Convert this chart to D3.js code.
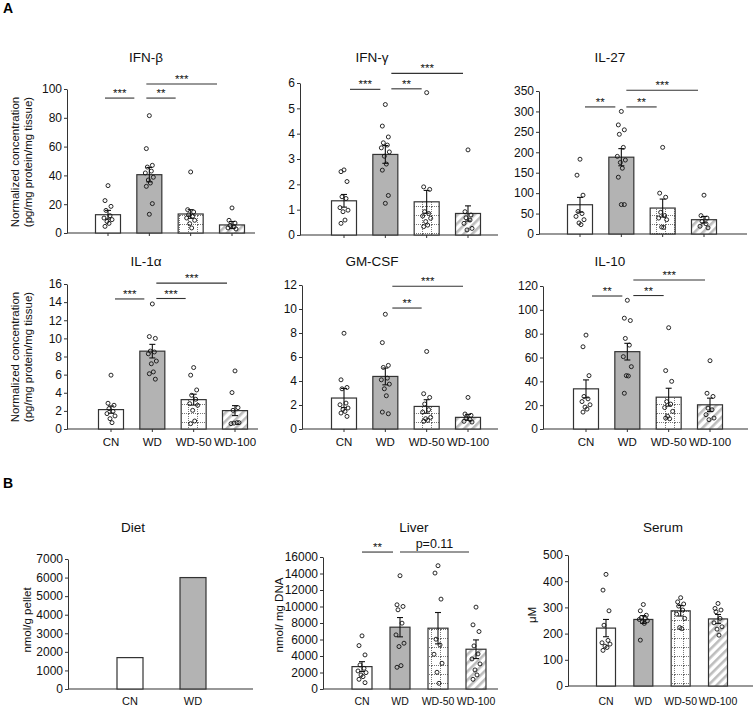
<!DOCTYPE html>
<html><head><meta charset="utf-8">
<script src="https://cdn.jsdelivr.net/npm/d3@7"></script>
<style>
body{margin:0;background:#fff;}
svg{display:block;font-family:"Liberation Sans",Arial,sans-serif;}
</style></head>
<body>
<svg id="c" width="756" height="708"></svg>
<script>
// ---------- DATA ----------
const groups = ["CN","WD","WD-50","WD-100"];
const dietGroups = ["CN","WD"];

const ifnbMeans = [12.7, 40.5, 13.2, 5.6];
const ifnbSem = [3.0, 5.0, 3.0, 2.4];
const ifnbPts = [
  [32.9, 22.5, 18.5, 15.7, 12, 10.4, 9.3, 8, 6.7, 4.6],
  [81.5, 58.6, 47, 45.8, 43, 41.7, 38.7, 36.8, 34.7, 32.4, 20.4, 13],
  [42.4, 16.2, 14.6, 12.7, 11.6, 10.4, 8.8, 6.5, 3.5],
  [17.4, 8.8, 6.9, 5.3, 4.2, 3.5, 2.8]];
const ifnbTicks = [0,20,40,60,80,100];
const ifnbSig = [[0,1,93.7,"***"],[1,2,93.7,"**"],[1,3,103.5,"***"]];

const ifngMeans = [1.35, 3.18, 1.31, 0.85];
const ifngSem = [0.25, 0.35, 0.45, 0.3];
const ifngPts = [
  [2.57, 2.5, 2.11, 1.51, 1.44, 1.08, 0.98, 0.92, 0.59, 0.46],
  [5.15, 4.3, 3.87, 3.64, 3.55, 3.44, 3.28, 3.11, 2.8, 2.56, 1.56, 1.25],
  [5.62, 1.9, 1.8, 0.92, 0.85, 0.75, 0.66, 0.53, 0.39, 0.33],
  [3.36, 0.92, 0.79, 0.68, 0.59, 0.46, 0.26, 0.2]];
const ifngTicks = [0,1,2,3,4,5,6];
const ifngSig = [[0,1,5.75,"***"],[1,2,5.77,"**"],[1,3,6.38,"***"]];

const il27Means = [71.6, 188, 63.5, 35];
const il27Sem = [18, 21, 22, 8];
const il27Pts = [
  [183, 144, 95, 55, 50, 43, 35, 27, 23],
  [300, 267, 255, 244, 212, 190, 181, 175, 161, 139, 72, 72],
  [212, 100, 90, 53, 45, 39, 35, 17, 16],
  [95, 45, 39, 31, 25, 19, 15]];
const il27Ticks = [0,50,100,150,200,250,300,350];
const il27Sig = [[0,1,311,"**"],[1,2,311,"**"],[1,3,352,"***"]];

const il1aMeans = [2.14, 8.59, 3.24, 2.03];
const il1aSem = [0.4, 0.75, 0.6, 0.55];
const il1aPts = [
  [5.94, 2.84, 2.62, 2.25, 1.95, 1.7, 1.44, 1.14, 0.7],
  [13.8, 10.2, 10.0, 8.6, 8.5, 8.3, 7.5, 7.2, 6.3, 6.1, 5.5],
  [6.78, 5.94, 4.31, 3.72, 3.28, 2.8, 2.62, 2.06, 0.88, 0.59],
  [6.41, 4.02, 2.36, 2.06, 0.7, 0.59, 0.7, 0.65]];
const il1aTicks = [0,2,4,6,8,10,12,14,16];
const il1aSig = [[0,1,14.35,"***"],[1,2,14.4,"***"],[1,3,16.1,"***"]];

const gmcsfMeans = [2.58, 4.38, 1.88, 0.97];
const gmcsfSem = [0.8, 0.7, 0.56, 0.25];
const gmcsfPts = [
  [7.98, 4.1, 3.46, 3.35, 2.16, 2.02, 1.75, 1.64, 1.47, 1.33, 1.05],
  [9.56, 7.2, 5.3, 5.13, 4.24, 4.1, 3.74, 3.35, 2.77, 1.41, 1.27],
  [6.46, 2.94, 2.63, 2.08, 1.61, 1.41, 0.97, 0.86, 0.72, 0.64],
  [2.63, 1.25, 1.14, 0.91, 0.78, 0.64, 0.58]];
const gmcsfTicks = [0,2,4,6,8,10,12];
const gmcsfSig = [[1,2,10.08,"**"],[1,3,11.9,"***"]];

const il10Means = [33.7, 64.9, 26.7, 20.3];
const il10Sem = [7.5, 7, 7.5, 5.6];
const il10Pts = [
  [78.8, 69, 44.8, 27.3, 25.3, 23, 20.3, 18.4, 16.7, 14.2],
  [108, 93, 91, 76, 70.4, 60.7, 52.3, 44.8, 44.5, 30],
  [85, 49, 40, 23, 20.9, 18, 14.8, 10.6, 8.6, 9.2],
  [57.3, 30, 27.3, 17.5, 16.1, 12, 9.2, 7.8]];
const il10Ticks = [0,20,40,60,80,100,120];
const il10Sig = [[0,1,111.6,"**"],[1,2,112,"**"],[1,3,125,"***"]];

const dietMeans = [1690, 6000];
const dietTicks = [0,1000,2000,3000,4000,5000,6000,7000];

const liverMeans = [2714, 7493, 7371, 4820];
const liverSem = [600, 1170, 1900, 1130];
const liverPts = [
  [6440, 5265, 4131, 2916, 2511, 2187, 1985, 1700, 1500, 1175, 770],
  [13730, 10206, 10004, 9600, 7980, 6560, 5550, 5144, 2835, 2633],
  [14945, 14054, 10895, 6035, 5346, 4212, 3119, 2025, 689],
  [9923, 7776, 6966, 5225, 4253, 3645, 3038, 2309, 1701, 1175]];
const liverTicks = [0,2000,4000,6000,8000,10000,12000,14000,16000];
const liverSig = [[0,1,16600,"**"],[1,3,16600,"p=0.11"]];

const serumMeans = [221, 254, 287, 256];
const serumSem = [33, 15, 20, 17];
const serumPts = [
  [426, 366, 287, 232, 174, 165, 160, 152, 147, 136],
  [311, 287, 270, 261, 258, 254, 249, 245, 239, 175],
  [337, 321, 313, 305, 290, 274, 258, 223, 219],
  [315, 296, 290, 283, 258, 241, 226, 217, 194]];
const serumTicks = [0,100,200,300,400,500];

// ---------- LAYOUT ----------
const svg = d3.select("#c");
const defs = svg.append("defs");
// dotted grid pattern (WD-50)
const pg = defs.append("pattern").attr("id","grid").attr("patternUnits","userSpaceOnUse")
  .attr("width",9).attr("height",9);
pg.append("rect").attr("width",9).attr("height",9).attr("fill","#fff");
pg.append("path").attr("d","M0,8.5H9M8.5,0V9").attr("stroke","#555").attr("stroke-width",0.8)
  .attr("stroke-dasharray","1,1").attr("fill","none");
// diagonal hatch (WD-100)
const ph = defs.append("pattern").attr("id","hatch").attr("patternUnits","userSpaceOnUse")
  .attr("width",6).attr("height",6).attr("patternTransform","rotate(45)");
ph.append("rect").attr("width",6).attr("height",6).attr("fill","#fff");
ph.append("rect").attr("width",2.6).attr("height",6).attr("fill","#bdbdbd");

const fills = ["#fff","#b3b3b3","url(#grid)","url(#hatch)"];
const jit = [0,-3,3,-2,2,-4,4,-1,1,-3,3,0,2];
const axisCol = "#333";
const FONT = "Liberation Sans, Arial, sans-serif";

function panel(o){
  const g = svg.append("g");
  const y = d3.scaleLinear().domain([0,o.ticks[o.ticks.length-1]]).range([o.yBot,o.yTop]);
  const x = d3.scalePoint().domain(o.cats).range([o.c0,o.c1]);
  // title
  g.append("text").attr("x",o.tx).attr("y",o.ty).attr("text-anchor","middle")
    .attr("font-size",13.5).attr("fill","#111").text(o.title);
  // y axis
  const ya = g.append("g").attr("transform",`translate(${o.ax},0)`)
    .call(d3.axisLeft(y).tickValues(o.ticks).tickSize(3).tickSizeOuter(0).tickPadding(2).tickFormat(d3.format("d")));
  ya.select(".domain").attr("stroke",axisCol);
  ya.selectAll(".tick line").attr("stroke",axisCol);
  ya.selectAll("text").attr("font-size",12).attr("fill","#111").attr("font-family",FONT);
  // x axis line
  g.append("line").attr("x1",o.ax).attr("x2",o.xEnd).attr("y1",o.yBot).attr("y2",o.yBot)
    .attr("stroke",axisCol).attr("stroke-width",1.2);
  if(o.xticks){
    o.cats.forEach(c=>g.append("line").attr("x1",x(c)).attr("x2",x(c)).attr("y1",o.yBot).attr("y2",o.yBot+3).attr("stroke",axisCol));
  }
  // bars
  o.cats.forEach((c,i)=>{
    g.append("rect").attr("x",x(c)-o.bw/2).attr("width",o.bw)
      .attr("y",y(o.means[i])).attr("height",o.yBot-y(o.means[i]))
      .attr("fill",fills[i]).attr("stroke","#333").attr("stroke-width",1.2);
  });
  // points
  if(o.pts){
    o.cats.forEach((c,i)=>{
      o.pts[i].forEach((v,k)=>{
        g.append("circle").attr("cx",x(c)+jit[k%jit.length]).attr("cy",y(v)).attr("r",2)
          .attr("fill","none").attr("stroke","#111").attr("stroke-width",0.9);
      });
    });
  }
  // error bars
  if(o.sem){
    o.cats.forEach((c,i)=>{
      const cx=x(c), t=y(o.means[i]+o.sem[i]), b=y(o.means[i]-o.sem[i]);
      g.append("line").attr("x1",cx).attr("x2",cx).attr("y1",t).attr("y2",b).attr("stroke","#111").attr("stroke-width",1.1);
      g.append("line").attr("x1",cx-3).attr("x2",cx+3).attr("y1",t).attr("y2",t).attr("stroke","#111").attr("stroke-width",1.1);
      g.append("line").attr("x1",cx-3).attr("x2",cx+3).attr("y1",b).attr("y2",b).attr("stroke","#111").attr("stroke-width",1.1);
    });
  }
  // significance
  if(o.sig){
    o.sig.forEach(s=>{
      const x1=x(o.cats[s[0]])+o.so[0], x2=x(o.cats[s[1]])+o.so[1], yy=y(s[2]);
      g.append("line").attr("x1",x1).attr("x2",x2).attr("y1",yy).attr("y2",yy).attr("stroke","#333").attr("stroke-width",1.1);
      const isP = s[3].startsWith("p");
      g.append("text").attr("x",(x1+x2)/2).attr("y",isP?yy-4:yy-1).attr("text-anchor","middle")
        .attr("font-size",isP?12.5:11.5).attr("fill","#111").text(s[3]);
    });
  }
  // x labels
  if(o.xl){
    o.cats.forEach(c=>g.append("text").attr("x",x(c)).attr("y",o.xl).attr("text-anchor","middle")
      .attr("font-size",o.xfs||11.5).attr("fill","#111").text(c));
  }
  // y label
  if(o.ylab){
    const t = g.append("text").attr("transform",`translate(${o.ylx},${o.yly}) rotate(-90)`)
      .attr("text-anchor","middle").attr("font-size",11.5).attr("fill","#111");
    o.ylab.forEach((l,i)=>t.append("tspan").attr("x",0).attr("dy",i?13:0).text(l));
  }
}

const ylabA = ["Normalized concentration","(pg/mg protein/mg tissue)"];

panel({title:"IFN-β",tx:146,ty:62,ax:67,xEnd:255,yTop:89,yBot:233,ticks:ifnbTicks,cats:groups,c0:108,c1:232,bw:25,
  means:ifnbMeans,sem:ifnbSem,pts:ifnbPts,sig:ifnbSig,so:[-3,-15],xticks:true,ylab:ylabA,ylx:19,yly:162});
panel({title:"IFN-γ",tx:372,ty:62,ax:300,xEnd:498,yTop:83,yBot:235,ticks:ifngTicks,cats:groups,c0:344,c1:468,bw:25,
  means:ifngMeans,sem:ifngSem,pts:ifngPts,sig:ifngSig,so:[6,-5],xticks:true});
panel({title:"IL-27",tx:610,ty:62,ax:539,xEnd:747,yTop:91,yBot:234,ticks:il27Ticks,cats:groups,c0:580,c1:704,bw:25,
  means:il27Means,sem:il27Sem,pts:il27Pts,sig:il27Sig,so:[5,-6],xticks:true});
panel({title:"IL-1α",tx:146,ty:266,ax:67,xEnd:258,yTop:284,yBot:429,ticks:il1aTicks,cats:groups,c0:111,c1:235,bw:25,
  means:il1aMeans,sem:il1aSem,pts:il1aPts,sig:il1aSig,so:[4,-8],xticks:true,xl:446,ylab:ylabA,ylx:19,yly:357});
panel({title:"GM-CSF",tx:372,ty:266,ax:302,xEnd:498,yTop:285,yBot:429,ticks:gmcsfTicks,cats:groups,c0:344,c1:468,bw:25,
  means:gmcsfMeans,sem:gmcsfSem,pts:gmcsfPts,sig:gmcsfSig,so:[7,-5],xticks:true,xl:446});
panel({title:"IL-10",tx:610,ty:266,ax:543,xEnd:748,yTop:286,yBot:429,ticks:il10Ticks,cats:groups,c0:586,c1:710,bw:25,
  means:il10Means,sem:il10Sem,pts:il10Pts,sig:il10Sig,so:[6,-5],xticks:true,xl:446});
panel({title:"Diet",tx:133,ty:532,ax:68,xEnd:253,yTop:559,yBot:689,ticks:dietTicks,cats:dietGroups,c0:130,c1:193,bw:26,
  means:dietMeans,xl:705,xfs:11,ylab:["nmol/g pellet"],ylx:31,yly:620});
panel({title:"Liver",tx:414,ty:532,ax:323,xEnd:498,yTop:557,yBot:689,ticks:liverTicks,cats:groups,c0:362,c1:476,bw:20,
  means:liverMeans,sem:liverSem,pts:liverPts,sig:liverSig,so:[0,-7],xl:705,xfs:10.5,ylab:["nmol/ mg DNA"],ylx:283,yly:615});
panel({title:"Serum",tx:663,ty:532,ax:568,xEnd:753,yTop:555,yBot:686,ticks:serumTicks,cats:groups,c0:606,c1:718,bw:19,
  means:serumMeans,sem:serumSem,pts:serumPts,xl:705,xfs:10.5,ylab:["μM"],ylx:536,yly:615});

svg.append("text").attr("x",3).attr("y",13).attr("font-size",14).attr("font-weight","bold").text("A");
svg.append("text").attr("x",3).attr("y",488).attr("font-size",14).attr("font-weight","bold").text("B");
</script>
</body></html>
